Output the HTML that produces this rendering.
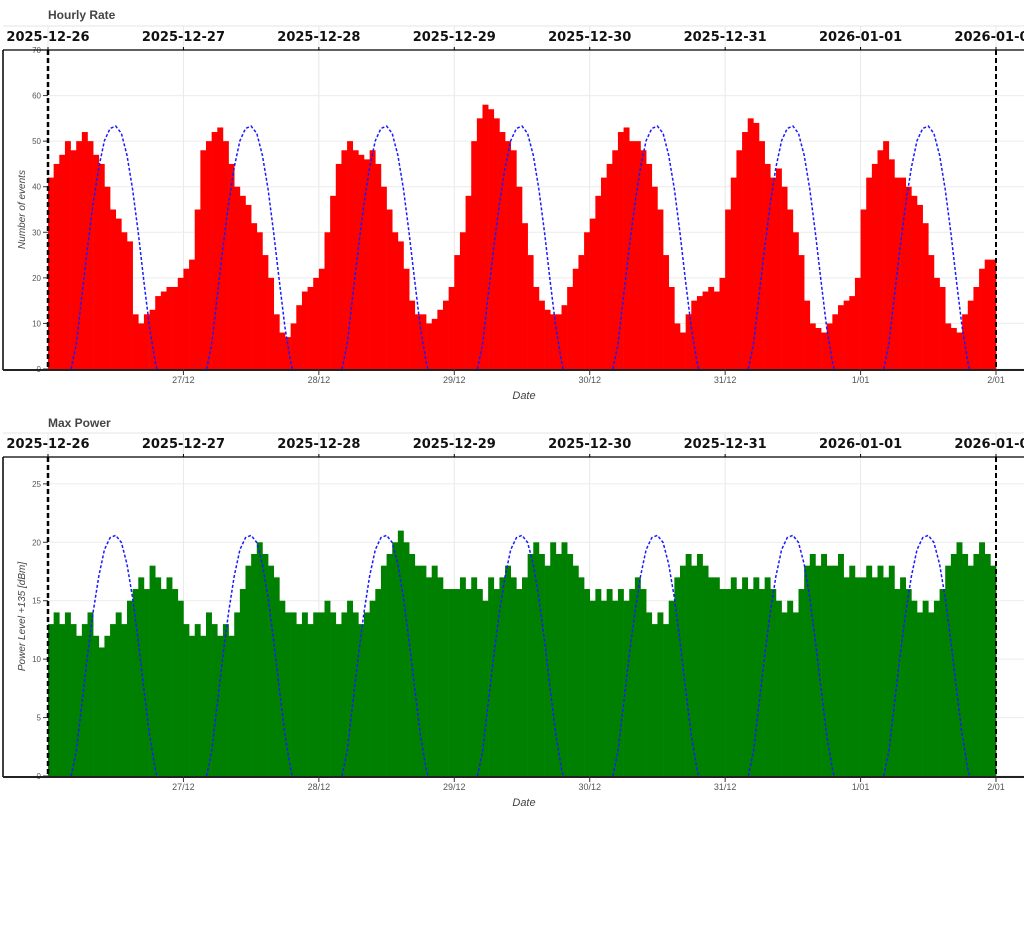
<!DOCTYPE html>
<html><head><meta charset="utf-8">
<style>
body{margin:0;background:#fff;width:1024px;height:946px;overflow:hidden;font-family:"Liberation Sans",sans-serif}
svg{display:block}
</style></head>
<body>
<svg id="c" width="1024" height="946" xmlns="http://www.w3.org/2000/svg"></svg>
<script>
const days = ["2025-12-26","2025-12-27","2025-12-28","2025-12-29","2025-12-30","2025-12-31","2026-01-01","2026-01-02"];
const bottomLabels = ["27/12","28/12","29/12","30/12","31/12","1/01","2/01"];
const rateValues = [
42,45,47,50,48,50,52,50,47,45,40,35,33,30,28,12,10,12,13,16,17,18,18,20,
22,24,35,48,50,52,53,50,45,40,38,36,32,30,25,20,12,8,7,10,14,17,18,20,
22,30,38,45,48,50,48,47,46,48,45,40,35,30,28,22,15,12,12,10,11,13,15,18,
25,30,38,50,55,58,57,55,52,50,48,40,32,25,18,15,13,12,12,14,18,22,25,30,
33,38,42,45,48,52,53,50,50,48,45,40,35,25,18,10,8,12,15,16,17,18,17,20,
35,42,48,52,55,54,50,45,42,44,40,35,30,25,15,10,9,8,10,12,14,15,16,20,
35,42,45,48,50,46,42,42,40,38,36,32,25,20,18,10,9,8,12,15,18,22,24,24];
const powerValues = [
13,14,13,14,13,12,13,14,12,11,12,13,14,13,15,16,17,16,18,17,16,17,16,15,
13,12,13,12,14,13,12,13,12,14,16,18,19,20,19,18,17,15,14,14,13,14,13,14,
14,15,14,13,14,15,14,13,14,15,16,18,19,20,21,20,19,18,18,17,18,17,16,16,
16,17,16,17,16,15,17,16,17,18,17,16,17,19,20,19,18,20,19,20,19,18,17,16,
15,16,15,16,15,16,15,16,17,16,14,13,14,13,15,17,18,19,18,19,18,17,17,16,
16,17,16,17,16,17,16,17,16,15,14,15,14,16,18,19,18,19,18,18,19,17,18,17,
17,18,17,18,17,18,16,17,16,15,14,15,14,15,16,18,19,20,19,18,19,20,19,18];
const sunHours = [4.1,5,6,7,8,9,10,11,12,13,14,15,16,17,18,19,19.3];
const sunFrac = [0,0.1,0.3,0.5,0.68,0.83,0.94,0.99,1,0.97,0.88,0.74,0.56,0.36,0.17,0.03,0];
const rateTicks = [0,10,20,30,40,50,60,70];
const powerTicks = [0,5,10,15,20,25];

const NS="http://www.w3.org/2000/svg";
const svg=document.getElementById('c');
function mk(tag,attrs,parent){const e=document.createElementNS(NS,tag);for(const k in attrs)e.setAttribute(k,attrs[k]);(parent||svg).appendChild(e);return e;}
const X0=48, DW=135.43;
const xs=d=>X0+d*DW;

function panel(cfg){
  const g=mk('g',{});
  
  
  const ys=v=>cfg.yb-(v/cfg.max)*(cfg.yb-cfg.yt);
  const t=mk('text',{x:48,y:cfg.titleY,'font-size':12,'font-weight':'bold',fill:'#444'},g);t.textContent=cfg.title;
  
  mk('line',{x1:3,y1:cfg.yt-24,x2:1024,y2:cfg.yt-24,stroke:'#e6e6e6'},g);
  for(let d=0;d<=7;d++){mk('line',{x1:xs(d),y1:cfg.yt-24,x2:xs(d),y2:cfg.yb,stroke:'#e8e8e8'},g);}
  cfg.ticks.forEach(v=>{mk('line',{x1:48,y1:ys(v),x2:1024,y2:ys(v),stroke:'#ececec'},g);
    const l=mk('text',{x:41,y:ys(v)+3,'font-size':8,fill:'#555','text-anchor':'end'},g);l.textContent=v;
    
    mk('line',{x1:43,y1:ys(v),x2:48,y2:ys(v),stroke:'#333'},g);});
  days.forEach((d,i)=>{const l=mk('text',{x:xs(i),y:cfg.yt-9,'font-size':13,'font-weight':'bold','font-family':'DejaVu Sans, sans-serif','text-anchor':'middle',fill:'#111'},g);l.textContent=d;
    
    mk('line',{x1:xs(i),y1:cfg.yt-3,x2:xs(i),y2:cfg.yt,stroke:'#000'},g);});
  const bw=DW/24;
  cfg.vals.forEach((v,i)=>{const b=mk('rect',{x:xs(i/24),y:ys(v),width:bw+0.3,height:cfg.yb-ys(v),fill:cfg.color},g);
    });
  for(let d=0;d<7;d++){
    const pts=sunHours.map((h,k)=>xs(d+h/24).toFixed(1)+','+ys(sunFrac[k]*cfg.sunPeak).toFixed(1)).join(' ');
    const p=mk('polyline',{points:pts,fill:'none',stroke:'#1a1aff','stroke-width':1.5,'stroke-dasharray':'3,2'},g);
    
  }
  mk('line',{x1:3,y1:cfg.yt,x2:1024,y2:cfg.yt,stroke:'#000','stroke-width':1.2},g);
  mk('line',{x1:3,y1:cfg.yt,x2:3,y2:cfg.yb+1,stroke:'#000','stroke-width':1.5},g);
  mk('line',{x1:3,y1:cfg.yb+1,x2:1024,y2:cfg.yb+1,stroke:'#222','stroke-width':2},g);
  mk('line',{x1:48,y1:cfg.yt,x2:48,y2:cfg.yb,stroke:'#000','stroke-width':2.5,'stroke-dasharray':'5,3'},g);
  mk('line',{x1:996,y1:cfg.yt,x2:996,y2:cfg.yb,stroke:'#000','stroke-width':2,'stroke-dasharray':'5,3'},g);
  bottomLabels.forEach((s,i)=>{const x=xs(i+1);mk('line',{x1:x,y1:cfg.yb,x2:x,y2:cfg.yb+6,stroke:'#333'},g);
    const l=mk('text',{x:x,y:cfg.yb+14,'font-size':9,fill:'#555','text-anchor':'middle'},g);l.textContent=s;
    });
  const xl=mk('text',{x:524,y:cfg.yb+30,'font-size':11,'font-style':'italic',fill:'#444','text-anchor':'middle'},g);xl.textContent='Date';
  
  const cy=(cfg.yt+cfg.yb)/2;
  const yl=mk('text',{x:25,y:cy,'font-size':10,'font-style':'italic',fill:'#444','text-anchor':'middle',transform:`rotate(-90 25 ${cy})`},g);yl.textContent=cfg.ylab;
  
}
panel({name:'hourly-rate-chart',title:'Hourly Rate',titleY:19,yt:50,yb:369,max:70,ticks:rateTicks,vals:rateValues,color:'#ff0000',sunPeak:53.3,ylab:'Number of events'});
panel({name:'max-power-chart',title:'Max Power',titleY:427,yt:457,yb:776,max:27.3,ticks:powerTicks,vals:powerValues,color:'#008000',sunPeak:20.6,ylab:'Power Level +135 [dBm]'});
</script>
</body></html>
